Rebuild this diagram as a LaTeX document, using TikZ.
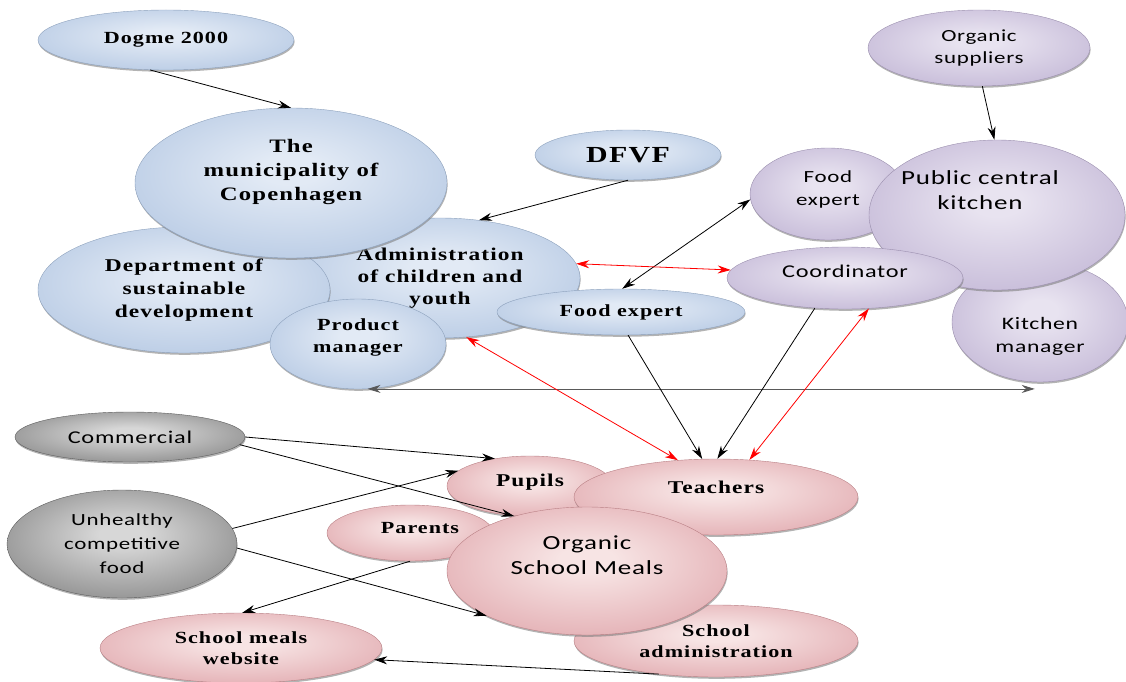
\documentclass[tikz,border=0pt]{standalone}
\usepackage{fontspec}
\newfontfamily\lblserif[FakeStretch=1.3,LetterSpace=6]{Liberation Serif}
\newfontfamily\lblsans[FakeStretch=1.35,LetterSpace=4]{Carlito}
\newcommand\fsb[2]{\lblserif\bfseries\fontsize{#1}{#2}\selectfont}
\newcommand\fss[2]{\lblsans\fontsize{#1}{#2}\selectfont}
\usetikzlibrary{shapes.geometric,shadows,arrows.meta}
\definecolor{bluein}{RGB}{226,234,245}
\definecolor{blueout}{RGB}{166,189,221}
\definecolor{purpin}{RGB}{232,227,240}
\definecolor{purpout}{RGB}{182,168,205}
\definecolor{greyin}{RGB}{215,215,215}
\definecolor{greyout}{RGB}{110,110,110}
\definecolor{pinkin}{RGB}{247,228,228}
\definecolor{pinkout}{RGB}{218,150,157}
\pgfdeclareradialshading{blueshade}{\pgfpoint{0bp}{5bp}}{color(0bp)=(bluein); color(5bp)=(bluein); color(42bp)=(blueout); color(50bp)=(blueout)}
\pgfdeclareradialshading{purpshade}{\pgfpoint{0bp}{5bp}}{color(0bp)=(purpin); color(5bp)=(purpin); color(42bp)=(purpout); color(50bp)=(purpout)}
\pgfdeclareradialshading{greyshade}{\pgfpoint{0bp}{5bp}}{color(0bp)=(greyin); color(5bp)=(greyin); color(42bp)=(greyout); color(50bp)=(greyout)}
\pgfdeclareradialshading{pinkshade}{\pgfpoint{0bp}{5bp}}{color(0bp)=(pinkin); color(5bp)=(pinkin); color(42bp)=(pinkout); color(50bp)=(pinkout)}
\begin{document}
\begin{tikzpicture}[x=1pt,y=-1pt,
  bubble/.style={ellipse,inner sep=0pt,align=center,draw=#1out!85!black,line width=0.4pt,
    shading=#1shade,
    drop shadow={shadow xshift=0.6pt,shadow yshift=-1.8pt,opacity=0.6}},
  link/.style={-{Stealth[length=13pt,width=8pt]},line width=0.8pt},
  twoway/.style={{Stealth[length=13pt,width=8pt]}-{Stealth[length=13pt,width=8pt]},line width=0.8pt},
  redway/.style={twoway,red}]
  \useasboundingbox (0,0) rectangle (1126,682);
  % blue group
  \node[bubble=blue,minimum width=256pt,minimum height=60pt,font=\fsb{17}{21}] (dogme) at (166,40) {Dogme 2000};
  \node[bubble=blue,minimum width=280pt,minimum height=120pt,font=\fsb{18}{22}] (admin) at (440,278) {Administration\\of children and\\youth};
  \node[bubble=blue,minimum width=292pt,minimum height=126pt,font=\fsb{18}{23}] (dept) at (184,290) {Department of\\sustainable\\development};
  \node[bubble=blue,minimum width=312pt,minimum height=150pt,
    label={[font=\fsb{19}{24},align=center,yshift=11pt]center:The\\municipality of\\Copenhagen}] (muni) at (291,183) {};
  \node[bubble=blue,minimum width=176pt,minimum height=90pt,
    label={[font=\fsb{17}{22},align=center,yshift=7pt]center:Product\\manager}] (prod) at (358,344) {};
  \node[bubble=blue,minimum width=186pt,minimum height=50pt,font=\fsb{23}{27}] (dfvf) at (628,155) {DFVF};
  \node[bubble=blue,minimum width=248pt,minimum height=46pt,font=\fsb{17}{21}] (fexp) at (621,312) {Food expert};
  % purple group
  \node[bubble=purp,minimum width=222pt,minimum height=76pt,font=\fss{17}{22}] (orgsup) at (979,48) {Organic\\suppliers};
  \node[bubble=purp,minimum width=156pt,minimum height=92pt,
    label={[font=\fss{17}{23},align=center,yshift=5pt]center:Food\\expert}] (fexpk) at (828,194) {};
  \node[bubble=purp,minimum width=176pt,minimum height=120pt,
    label={[font=\fss{17.5}{23},align=center,yshift=-14pt]center:Kitchen\\manager}] (kman) at (1040,322) {};
  \node[bubble=purp,minimum width=256pt,minimum height=150pt,
    label={[font=\fss{20}{25},align=center,xshift=-17pt,yshift=25pt]center:Public central\\kitchen}] (pck) at (997,215) {};
  \node[bubble=purp,minimum width=236pt,minimum height=62pt,
    label={[font=\fss{18}{22},yshift=7pt]center:Coordinator}] (coord) at (845,278) {};
  % pink group
  \node[bubble=pink,minimum width=166pt,minimum height=60pt,
    label={[font=\fsb{18}{22},yshift=4pt]center:Pupils}] (pupils) at (530,486) {};
  \node[bubble=pink,minimum width=284pt,minimum height=76pt,
    label={[font=\fsb{18}{22},yshift=10pt]center:Teachers}] (teach) at (716,497) {};
  \node[bubble=pink,minimum width=166pt,minimum height=56pt,
    label={[font=\fsb{17}{21},xshift=10pt,yshift=5pt]center:Parents}] (parents) at (410,533) {};
  \node[bubble=pink,minimum width=284pt,minimum height=72pt,font=\fsb{17}{21}] (sadmin) at (716,641) {School\\administration};
  \node[bubble=pink,minimum width=282pt,minimum height=70pt,font=\fsb{17}{21}] (web) at (241,648) {School meals\\website};
  \node[bubble=pink,minimum width=280pt,minimum height=128pt,
    label={[font=\fss{20}{25},align=center,yshift=16pt]center:Organic\\School Meals}] (osm) at (587,571) {};
  % grey group
  \node[bubble=grey,minimum width=230pt,minimum height=50pt,font=\fss{18}{22}] (comm) at (130,437) {Commercial};
  \node[bubble=grey,minimum width=230pt,minimum height=108pt,font=\fss{17}{24}] (unh) at (122,544) {Unhealthy\\competitive\\food};
  % connectors
  \draw[link] (dogme.-118) -- (muni.north);
  \draw[link] (dfvf.south) -- (admin.56);
  \draw[link] (orgsup.-85) -- (pck.92);
  \draw[twoway] (fexpk.184) -- (fexp.87);
  \draw[redway] (admin.6) -- (coord.176);
  \draw[twoway,black!65] (prod.-78) -- (prod.-78 -| kman.-95);
  \draw[redway] (admin.-66) -- (teach.136);
  \draw[link] (fexp.-73) -- (teach.110);
  \draw[link] (coord.-135) -- (teach.88);
  \draw[redway] (coord.-52) -- (teach.48);
  \draw[link] (comm.east) -- (pupils.142);
  \draw[link] (comm.-4) -- (osm.143);
  \draw[link] (unh.8) -- (pupils.168);
  \draw[link] (unh.-2) -- (osm.204);
  \draw[link] (parents.-90) -- (web.88);
  \draw[link] (sadmin.-150) -- (web.-5);
\end{tikzpicture}
\end{document}
